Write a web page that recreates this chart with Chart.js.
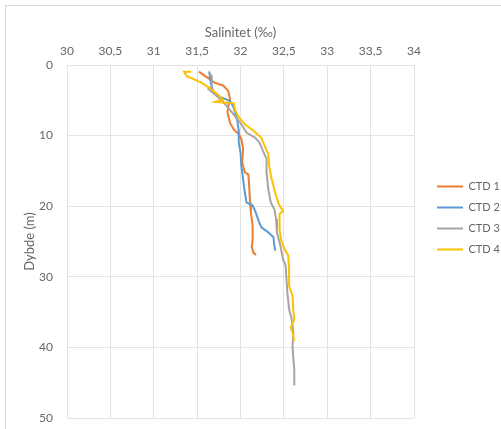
<!DOCTYPE html>
<html>
<head>
<meta charset="utf-8">
<style>
body { margin: 0; background: #fff; }
#wrap { position: absolute; left: 0; top: 0; width: 501px; height: 429px; }
</style>
</head>
<body>
<div id="wrap"><canvas id="myChart" width="501" height="429"></canvas></div>
<script src="https://cdn.jsdelivr.net/npm/chart.js"></script>
<script>
// depth (m) and salinity (‰)
var ctd1Depth = [0.94, 2.5, 2.9, 3.7, 4.9, 5.8, 6.7, 8.2, 9.1, 9.8, 10.5, 11.9, 13.8, 15.2, 15.5, 17.1, 19.5, 20.9, 22.8, 24.7, 25.8, 26.6, 26.9];
var ctd1Sal   = [31.52, 31.70, 31.80, 31.86, 31.88, 31.86, 31.85, 31.88, 31.92, 31.98, 32.01, 32.03, 32.02, 32.05, 32.09, 32.10, 32.11, 32.12, 32.14, 32.14, 32.13, 32.15, 32.18];

var ctd2Depth = [0.94, 2.0, 3.2, 3.9, 4.6, 5.1, 6.0, 7.7, 9.3, 11.0, 12.4, 14.3, 16.2, 18.1, 19.5, 19.9, 20.7, 22.1, 23.0, 23.7, 24.4, 25.6, 26.3];
var ctd2Sal   = [31.64, 31.65, 31.67, 31.69, 31.78, 31.88, 31.92, 31.96, 31.98, 31.98, 32.00, 32.01, 32.03, 32.05, 32.07, 32.14, 32.17, 32.21, 32.24, 32.32, 32.38, 32.39, 32.40];

var ctd3Depth = [0.94, 1.6, 3.0, 3.4, 4.2, 5.1, 5.8, 7.0, 8.4, 9.6, 10.3, 11.0, 12.2, 13.3, 15.2, 17.6, 19.5, 20.4, 21.8, 23.7, 25.6, 27.5, 28.4, 30.3, 32.2, 34.6, 36.0, 37.9, 39.8, 41.7, 43.1, 45.4];
var ctd3Sal   = [31.63, 31.67, 31.67, 31.63, 31.71, 31.79, 31.84, 31.92, 32.01, 32.07, 32.17, 32.22, 32.26, 32.30, 32.30, 32.32, 32.35, 32.39, 32.41, 32.42, 32.46, 32.49, 32.52, 32.53, 32.54, 32.56, 32.59, 32.61, 32.60, 32.61, 32.62, 32.62];

var ctd4Depth = [0.94, 0.94, 1.6, 1.9, 2.5, 3.3, 4.2, 4.9, 5.2, 5.3, 5.4, 6.5, 7.4, 8.4, 9.3, 10.3, 11.5, 12.6, 14.3, 16.2, 18.1, 19.7, 20.7, 21.1, 23.3, 24.9, 26.1, 27.0, 28.9, 31.3, 32.7, 35.0, 36.0, 37.2, 37.9, 39.1];
var ctd4Sal   = [31.43, 31.35, 31.38, 31.44, 31.55, 31.65, 31.74, 31.80, 31.71, 31.79, 31.92, 31.94, 31.98, 32.05, 32.15, 32.24, 32.28, 32.32, 32.33, 32.36, 32.40, 32.44, 32.49, 32.45, 32.45, 32.47, 32.51, 32.55, 32.56, 32.56, 32.60, 32.61, 32.62, 32.58, 32.60, 32.62];

var seriesNames  = ["CTD 1", "CTD 2", "CTD 3", "CTD 4"];
var seriesColors = ["#ED7D31", "#5B9BD5", "#A5A5A5", "#FFC000"];

function toPoints(sal, depth){
	var pts = [];
	for(var i = 0; i < sal.length; i++){
		pts.push({x: sal[i], y: depth[i]});
	}
	return pts;
}

var allSal = [ctd1Sal, ctd2Sal, ctd3Sal, ctd4Sal];
var allDepth = [ctd1Depth, ctd2Depth, ctd3Depth, ctd4Depth];
var datasets = [];
for(var s = 0; s < 4; s++){
	datasets.push({
		label: seriesNames[s],
		data: toPoints(allSal[s], allDepth[s]),
		showLine: true,
		borderColor: seriesColors[s],
		backgroundColor: seriesColors[s],
		borderWidth: 2,
		pointRadius: 0,
		tension: 0,
		order: 4 - s
	});
}

var fontFamily = "Lato, 'Open Sans', sans-serif";
var textColor = "#666666";
var gridColor = "#e3e3e3";

// light frame like the spreadsheet chart area
var framePlugin = {
	id: 'frame',
	beforeDraw: function(chart){
		var ctx = chart.ctx;
		ctx.save();
		ctx.fillStyle = '#fff';
		ctx.fillRect(0, 0, chart.width, chart.height);
		ctx.strokeStyle = '#d9d9d9';
		ctx.lineWidth = 1;
		ctx.strokeRect(5.5, 5.5, 600, 600);
		ctx.restore();
	}
};

var ctx = document.getElementById('myChart').getContext('2d');
var myChart = new Chart(ctx, {
	type: 'scatter',
	data: { datasets: datasets },
	plugins: [framePlugin],
	options: {
		animation: false,
		responsive: false,
		layout: { padding: { top: 25, left: 22, right: 0, bottom: 11 } },
		plugins: {
			tooltip: { enabled: false },
			legend: {
				position: 'right',
				align: 'start',
				maxWidth: 74,
				title: { display: true, text: '', font: { size: 10 }, padding: { top: 0, bottom: 134 } },
				labels: {
					usePointStyle: true,
					pointStyle: 'line',
					pointStyleWidth: 26,
					padding: 10,
					color: textColor,
					font: { family: fontFamily, size: 11 },
					sort: function(a, b){ return a.datasetIndex - b.datasetIndex; }
				}
			}
		},
		scales: {
			x: {
				type: 'linear',
				position: 'top',
				min: 30,
				max: 34,
				afterFit: function(scale){ scale.height = 40; },
				ticks: {
					stepSize: 0.5,
					color: textColor,
					padding: 7,
					font: { family: fontFamily, size: 12 },
					callback: function(v){ return String(v).replace('.', ','); }
				},
				grid: { color: gridColor, drawTicks: false },
				border: { color: gridColor },
				title: {
					display: true,
					text: 'Salinitet (‰)',
					color: textColor,
					font: { family: fontFamily, size: 13 },
					padding: 0
				}
			},
			y: {
				type: 'linear',
				reverse: true,
				min: 0,
				max: 50,
				afterFit: function(scale){
					scale.width = 45;
					scale.paddingTop = 0;
					scale.paddingBottom = 0;
				},
				ticks: {
					stepSize: 10,
					color: textColor,
					padding: 14,
					font: { family: fontFamily, size: 12 }
				},
				grid: { color: gridColor, drawTicks: false },
				border: { color: gridColor },
				title: {
					display: true,
					text: 'Dybde (m)',
					color: textColor,
					font: { family: fontFamily, size: 13 },
					padding: 0
				}
			},
			// empty strip between plot and legend
			gap: {
				type: 'linear',
				position: 'right',
				display: true,
				ticks: { display: false },
				grid: { display: false },
				border: { display: false },
				afterFit: function(scale){ scale.width = 13; }
			}
		}
	}
});
</script>
</body>
</html>
